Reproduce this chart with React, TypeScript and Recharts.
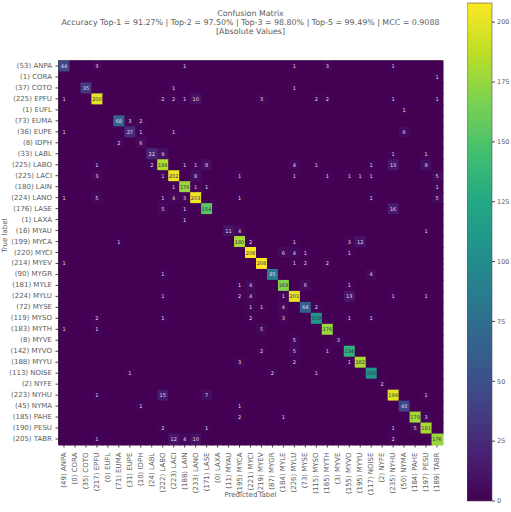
import React from 'react';
import {
  BarChart,
  Bar,
  ScatterChart,
  Scatter,
  XAxis,
  YAxis,
  ReferenceArea,
} from 'recharts';

const classes = [
  'ANPA', 'CORA', 'COTO', 'EPFU', 'EUFL', 'EUMA', 'EUPE', 'IDPH', 'LABL', 'LABO', 'LACI', 'LAIN',
  'LANO', 'LASE', 'LAXA', 'MYAU', 'MYCA', 'MYCI', 'MYEV', 'MYGR', 'MYLE', 'MYLU', 'MYSE', 'MYSO',
  'MYTH', 'MYVE', 'MYVO', 'MYYU', 'NOISE', 'NYFE', 'NYHU', 'NYMA', 'PAHE', 'PESU', 'TABR',
];

const trueTotals = [
  53, 1, 37, 225, 1, 73, 36, 8, 33, 225, 225, 180, 224, 176, 1, 16, 199, 220, 214, 90, 181, 224, 72,
  119, 183, 8, 142, 188, 113, 2, 223, 45, 185, 190, 205,
];

const predictedTotals = [
  49, 0, 35, 217, 0, 71, 31, 10, 24, 222, 223, 188, 233, 171, 0, 11, 195, 221, 219, 87, 184, 226, 73,
  115, 185, 3, 155, 195, 117, 2, 235, 50, 184, 197, 189,
];

// Non-zero counts only: [true class, predicted class, count]
const counts: [string, string, number][] = [
  ['ANPA', 'ANPA', 44], ['ANPA', 'EPFU', 3], ['ANPA', 'LAIN', 1], ['ANPA', 'MYLU', 1], ['ANPA', 'MYTH', 3], ['ANPA', 'NYHU', 1],
  ['CORA', 'TABR', 1],
  ['COTO', 'COTO', 35], ['COTO', 'LACI', 1], ['COTO', 'MYLU', 1],
  ['EPFU', 'ANPA', 1], ['EPFU', 'EPFU', 200], ['EPFU', 'LABO', 2], ['EPFU', 'LACI', 2], ['EPFU', 'LAIN', 1], ['EPFU', 'LANO', 10],
  ['EPFU', 'MYEV', 3], ['EPFU', 'MYSO', 2], ['EPFU', 'MYTH', 2], ['EPFU', 'NYHU', 1], ['EPFU', 'TABR', 1],
  ['EUFL', 'NYMA', 1],
  ['EUMA', 'EUMA', 68], ['EUMA', 'EUPE', 3], ['EUMA', 'IDPH', 2],
  ['EUPE', 'ANPA', 1], ['EUPE', 'EUPE', 27], ['EUPE', 'IDPH', 1], ['EUPE', 'LACI', 1], ['EUPE', 'NYMA', 6],
  ['IDPH', 'EUMA', 2], ['IDPH', 'IDPH', 6],
  ['LABL', 'LABL', 22], ['LABL', 'LABO', 9], ['LABL', 'NYHU', 1], ['LABL', 'PESU', 1],
  ['LABO', 'EPFU', 1], ['LABO', 'LABL', 2], ['LABO', 'LABO', 184], ['LABO', 'LAIN', 1], ['LABO', 'LANO', 1], ['LABO', 'LASE', 8],
  ['LABO', 'MYLU', 4], ['LABO', 'MYSO', 1], ['LABO', 'NOISE', 1], ['LABO', 'NYHU', 13], ['LABO', 'PESU', 9],
  ['LACI', 'EPFU', 3], ['LACI', 'LABO', 1], ['LACI', 'LACI', 202], ['LACI', 'LANO', 8], ['LACI', 'MYCA', 1], ['LACI', 'MYLU', 1],
  ['LACI', 'MYTH', 1], ['LACI', 'MYVO', 1], ['LACI', 'MYYU', 1], ['LACI', 'NOISE', 1], ['LACI', 'TABR', 5],
  ['LAIN', 'LACI', 1], ['LAIN', 'LAIN', 176], ['LAIN', 'LANO', 1], ['LAIN', 'LASE', 1], ['LAIN', 'TABR', 1],
  ['LANO', 'ANPA', 1], ['LANO', 'EPFU', 5], ['LANO', 'LABO', 1], ['LANO', 'LACI', 4], ['LANO', 'LAIN', 3], ['LANO', 'LANO', 203],
  ['LANO', 'MYCA', 1], ['LANO', 'NOISE', 1], ['LANO', 'TABR', 5],
  ['LASE', 'LABO', 5], ['LASE', 'LAIN', 1], ['LASE', 'LASE', 154], ['LASE', 'NYHU', 16],
  ['LAXA', 'LAIN', 1],
  ['MYAU', 'MYAU', 11], ['MYAU', 'MYCA', 4], ['MYAU', 'PESU', 1],
  ['MYCA', 'EUMA', 1], ['MYCA', 'MYCA', 180], ['MYCA', 'MYCI', 2], ['MYCA', 'MYLU', 1], ['MYCA', 'MYVO', 3], ['MYCA', 'MYYU', 12],
  ['MYCI', 'MYCI', 208], ['MYCI', 'MYLE', 6], ['MYCI', 'MYLU', 4], ['MYCI', 'MYSE', 1], ['MYCI', 'MYVO', 1],
  ['MYEV', 'ANPA', 1], ['MYEV', 'MYEV', 208], ['MYEV', 'MYLU', 1], ['MYEV', 'MYSE', 2], ['MYEV', 'MYTH', 2],
  ['MYGR', 'LABO', 1], ['MYGR', 'MYGR', 85], ['MYGR', 'NOISE', 4],
  ['MYLE', 'MYCA', 1], ['MYLE', 'MYCI', 4], ['MYLE', 'MYLE', 169], ['MYLE', 'MYSE', 6], ['MYLE', 'MYVO', 1],
  ['MYLU', 'LABO', 1], ['MYLU', 'MYCA', 2], ['MYLU', 'MYCI', 4], ['MYLU', 'MYLE', 1], ['MYLU', 'MYLU', 201], ['MYLU', 'MYVO', 13],
  ['MYLU', 'NYHU', 1], ['MYLU', 'PESU', 1],
  ['MYSE', 'MYCI', 1], ['MYSE', 'MYEV', 1], ['MYSE', 'MYLE', 4], ['MYSE', 'MYSE', 64], ['MYSE', 'MYSO', 2],
  ['MYSO', 'EPFU', 2], ['MYSO', 'LABO', 1], ['MYSO', 'MYCI', 2], ['MYSO', 'MYLE', 3], ['MYSO', 'MYSO', 109], ['MYSO', 'MYVO', 1], ['MYSO', 'NOISE', 1],
  ['MYTH', 'ANPA', 1], ['MYTH', 'EPFU', 1], ['MYTH', 'MYEV', 5], ['MYTH', 'MYTH', 176],
  ['MYVE', 'MYLU', 5], ['MYVE', 'MYVE', 3],
  ['MYVO', 'MYEV', 2], ['MYVO', 'MYLU', 5], ['MYVO', 'MYTH', 1], ['MYVO', 'MYVO', 134],
  ['MYYU', 'MYCA', 3], ['MYYU', 'MYLU', 2], ['MYYU', 'MYVO', 1], ['MYYU', 'MYYU', 182],
  ['NOISE', 'EUPE', 1], ['NOISE', 'MYGR', 2], ['NOISE', 'MYSO', 1], ['NOISE', 'NOISE', 109],
  ['NYFE', 'NYFE', 2],
  ['NYHU', 'EPFU', 1], ['NYHU', 'LABO', 15], ['NYHU', 'LASE', 7], ['NYHU', 'NYHU', 199], ['NYHU', 'PESU', 1],
  ['NYMA', 'IDPH', 1], ['NYMA', 'MYCA', 1], ['NYMA', 'NYMA', 43],
  ['PAHE', 'MYCA', 2], ['PAHE', 'MYLE', 1], ['PAHE', 'PAHE', 179], ['PAHE', 'PESU', 3],
  ['PESU', 'LABO', 2], ['PESU', 'LASE', 1], ['PESU', 'NYHU', 1], ['PESU', 'PAHE', 5], ['PESU', 'PESU', 181],
  ['TABR', 'EPFU', 1], ['TABR', 'LACI', 12], ['TABR', 'LAIN', 4], ['TABR', 'LANO', 10], ['TABR', 'NYHU', 2], ['TABR', 'TABR', 176],
];

const colorbarTicks = [0, 25, 50, 75, 100, 125, 150, 175, 200];
const titleLines = [
  'Confusion Matrix',
  'Accuracy Top-1 = 91.27% | Top-2 = 97.50% | Top-3 = 98.80% | Top-5 = 99.49% | MCC = 0.9088',
  '[Absolute Values]',
];

const viridis = [
  '#440154', '#482475', '#414487', '#355f8d', '#2a788e', '#21918c', '#22a884', '#44bf70', '#7ad151', '#bddf26', '#fde725',
];

const FONT = 'DejaVu Sans';
const TEXT = '#5c5c5c';
const maxCount = Math.max(...counts.map((c) => c[2]));

const plot = { left: 58.5, top: 60.5, width: 384, height: 384 };
const cellW = plot.width / classes.length;
const cellH = plot.height / classes.length;

function hexToRgb(hex: string) {
  return [1, 3, 5].map((i) => parseInt(hex.slice(i, i + 2), 16));
}

function colorFor(value: number) {
  const t = (value / maxCount) * (viridis.length - 1);
  const i = Math.min(Math.floor(t), viridis.length - 2);
  const a = hexToRgb(viridis[i]);
  const b = hexToRgb(viridis[i + 1]);
  const rgb = a.map((v, k) => Math.round(v + (b[k] - v) * (t - i)));
  return `rgb(${rgb.join(',')})`;
}

const lookup = new Map(counts.map(([t, p, n]) => [`${t}|${p}`, n]));
const cells = classes.flatMap((t, y) =>
  classes.map((p, x) => ({ x, y, value: lookup.get(`${t}|${p}`) ?? 0 })),
);
const classTicks = classes.map((_, i) => i);
const colorbarData = [{ name: 'counts', value: maxCount }];

function CellMark(props: any) {
  const { cx, cy, payload } = props;
  const value = payload.value;
  return (
    <g>
      <rect
        x={cx - cellW / 2}
        y={cy - cellH / 2}
        width={cellW + 1}
        height={cellH + 1}
        fill={colorFor(value)}
      />
      {value > 0 && (
        <text
          x={cx}
          y={cy}
          textAnchor="middle"
          dominantBaseline="central"
          fontSize={5}
          fontFamily={FONT}
          fill={value > maxCount / 2 ? '#3b2a55' : '#ecd9ec'}
        >
          {value}
        </text>
      )}
    </g>
  );
}

function PredictedTick(props: any) {
  const { x, y, payload } = props;
  return (
    <text
      x={x}
      y={y + 3}
      transform={`rotate(-90 ${x} ${y + 3})`}
      textAnchor="end"
      dominantBaseline="central"
      fontSize={7}
      fontFamily={FONT}
      fill={TEXT}
    >
      {`(${predictedTotals[payload.value]}) ${classes[payload.value]}`}
    </text>
  );
}

function TrueTick(props: any) {
  const { x, y, payload } = props;
  return (
    <text
      x={x - 1.5}
      y={y}
      textAnchor="end"
      dominantBaseline="central"
      fontSize={7}
      fontFamily={FONT}
      fill={TEXT}
    >
      {`(${trueTotals[payload.value]}) ${classes[payload.value]}`}
    </text>
  );
}

export default function App() {
  return (
    <div style={{ position: 'absolute', left: 0, top: 0, width: 511, height: 512, background: '#fff' }}>
      <ScatterChart
        width={460}
        height={512}
        margin={{ top: plot.top, left: 0, right: 460 - plot.left - plot.width, bottom: 0 }}
        style={{ position: 'absolute', left: 0, top: 0 }}
      >
        <XAxis
          type="number"
          dataKey="x"
          domain={[-0.5, 34.5]}
          ticks={classTicks}
          interval={0}
          height={512 - plot.top - plot.height}
          tick={<PredictedTick />}
          tickSize={3}
          stroke="#444"
          label={{
            value: 'Predicted label',
            position: 'insideBottom',
            offset: 15,
            fontSize: 7,
            fontFamily: FONT,
            fill: TEXT,
          }}
        />
        <YAxis
          type="number"
          dataKey="y"
          reversed
          domain={[-0.5, 34.5]}
          ticks={classTicks}
          interval={0}
          width={plot.left}
          tickSize={3}
          stroke="#444"
          tick={<TrueTick />}
          label={{
            value: 'True label',
            angle: -90,
            position: 'insideLeft',
            offset: 5,
            fontSize: 7,
            fontFamily: FONT,
            fill: TEXT,
          }}
        />
        <Scatter data={cells} isAnimationActive={false} shape={CellMark} />
        <ReferenceArea x1={-0.5} x2={34.5} y1={-0.5} y2={34.5} fill="none" stroke="#444" strokeWidth={0.8} />
        {titleLines.map((line, i) => (
          <text
            key={line}
            x={plot.left + plot.width / 2}
            y={16 + i * 9.2}
            textAnchor="middle"
            fontSize={7.9}
            fontFamily={FONT}
            fill={TEXT}
          >
            {line}
          </text>
        ))}
      </ScatterChart>

      <BarChart
        width={44}
        height={512}
        data={colorbarData}
        barCategoryGap={0}
        margin={{ top: 3, left: 0, right: 0, bottom: 11 }}
        style={{ position: 'absolute', left: 467, top: 0 }}
      >
        <defs>
          <linearGradient id="viridis" x1="0" y1="1" x2="0" y2="0">
            {viridis.map((c, i) => (
              <stop key={c} offset={i / (viridis.length - 1)} stopColor={c} />
            ))}
          </linearGradient>
        </defs>
        <XAxis dataKey="name" hide />
        <YAxis
          orientation="right"
          domain={[0, maxCount]}
          ticks={colorbarTicks}
          interval={0}
          width={19}
          tickSize={3}
          axisLine={false}
          stroke="#444"
          tick={{ fontSize: 6.5, fontFamily: FONT, fill: TEXT }}
        />
        <Bar dataKey="value" fill="url(#viridis)" stroke="#555" strokeWidth={0.6} isAnimationActive={false} />
      </BarChart>
    </div>
  );
}
